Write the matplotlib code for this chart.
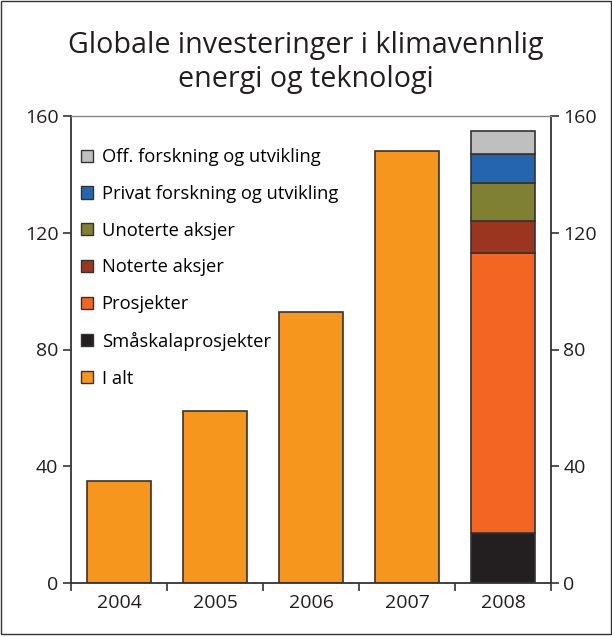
import numpy as np
import matplotlib.pyplot as plt
from matplotlib.patches import Patch, Rectangle

plt.rcParams['font.family'] = ['Open Sans', 'DejaVu Sans']

# Data
years = ['2004', '2005', '2006', '2007', '2008']
i_alt = [35, 59, 93, 148, 0]
smaskala = [0, 0, 0, 0, 17]
prosjekter = [0, 0, 0, 0, 96]
noterte = [0, 0, 0, 0, 11]
unoterte = [0, 0, 0, 0, 13]
privat_fou = [0, 0, 0, 0, 10]
off_fou = [0, 0, 0, 0, 8]

stack = [
    ('Småskalaprosjekter', smaskala, '#231f20'),
    ('Prosjekter', prosjekter, '#f26522'),
    ('Noterte aksjer', noterte, '#9b3520'),
    ('Unoterte aksjer', unoterte, '#808033'),
    ('Privat forskning og utvikling', privat_fou, '#2565b0'),
    ('Off. forskning og utvikling', off_fou, '#bfbfbf'),
]
color_ialt = '#f7961d'

fig = plt.figure(figsize=(6.12, 6.37), dpi=100)
ax = fig.add_axes([71 / 612, 1 - 583 / 637, 480 / 612, 467 / 637])

x = np.arange(len(years))
w = 0.667
edge = dict(edgecolor='#333333', linewidth=1.2)

ax.bar(x, i_alt, w, color=color_ialt, **edge)
bottom = np.zeros(len(years))
for name, vals, col in stack:
    vals = np.array(vals, dtype=float)
    mask = vals > 0
    ax.bar(x[mask], vals[mask], w, bottom=bottom[mask], color=col, **edge)
    bottom += vals

ax.set_xlim(-0.5, 4.5)
ax.set_ylim(0, 160)
ax.set_yticks([0, 40, 80, 120, 160])
ax.set_xticks(x)
ax.set_xticklabels(years)
ax.set_xticks(np.arange(-0.5, 5, 1), minor=True)
ax.tick_params(axis='x', which='major', length=0, labelsize=14, pad=8, colors='#231f20')
ax.tick_params(axis='x', which='minor', length=6, width=1.2, color='#333333')
ax.tick_params(axis='y', length=6, width=1.2, labelsize=14, color='#333333', pad=3,
               labelcolor='#231f20', left=True, right=True, labelleft=True, labelright=True)
for s in ['left', 'right', 'bottom']:
    ax.spines[s].set_color('#333333')
    ax.spines[s].set_linewidth(1.3)
ax.spines['top'].set_color('#888888')
ax.spines['top'].set_linewidth(1)

# Legend
handles = [Patch(facecolor=c, edgecolor='#333333', label=n) for n, _, c in stack[::-1]]
handles.append(Patch(facecolor=color_ialt, edgecolor='#333333', label='I alt'))
ax.legend(handles=handles, loc='upper left', bbox_to_anchor=(-0.024, 0.978), frameon=False,
          fontsize=13.2, handlelength=0.65, handleheight=0.65, handletextpad=0.45,
          labelspacing=1.02, borderaxespad=0.8)

fig.text(0.5, 1 - 45 / 637, 'Globale investeringer i klimavennlig', ha='center', va='center',
         fontsize=20.6, color='#231f20')
fig.text(0.5, 1 - 80 / 637, 'energi og teknologi', ha='center', va='center',
         fontsize=20.6, color='#231f20')

# figure frame
fig.patches.append(Rectangle((0.002, 0.004), 0.996, 0.994, transform=fig.transFigure,
                             fill=False, edgecolor='#333333', linewidth=1))

fig.savefig('out.png', dpi=100)
